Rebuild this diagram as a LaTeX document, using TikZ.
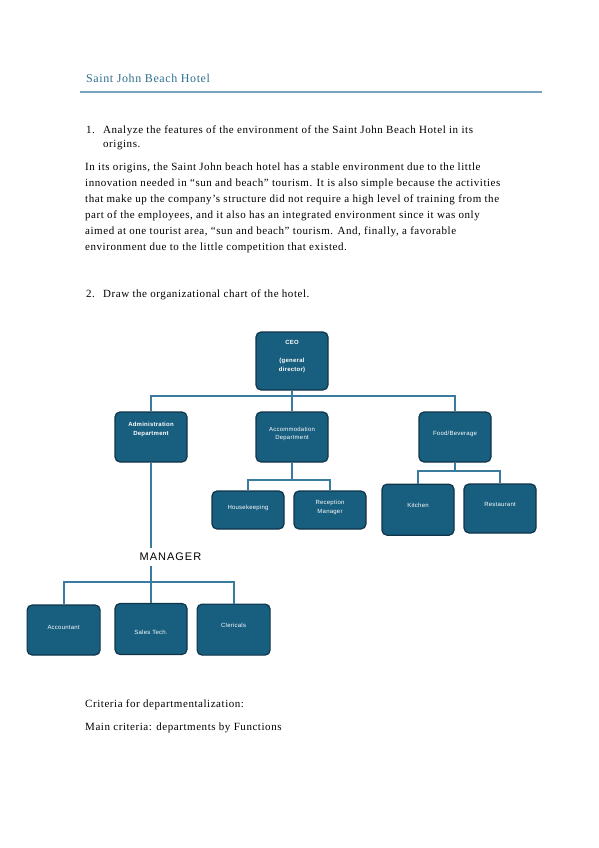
\documentclass[tikz,border=0pt]{standalone}
\usepackage{fontspec}
\setmainfont[LetterSpace=5]{Liberation Serif}
\setsansfont[LetterSpace=4]{Liberation Sans}
\definecolor{boxfill}{RGB}{23,94,127}
\definecolor{boxline}{RGB}{16,52,72}
\definecolor{linkcol}{RGB}{58,124,160}
\definecolor{headcol}{RGB}{47,111,145}
\definecolor{rulecol}{RGB}{118,163,189}
\begin{document}
\begin{tikzpicture}[x=1pt,y=-1pt,
    box/.style={draw=boxline,fill=boxfill,line width=1.2pt,rounded corners=5pt,minimum width=72pt,minimum height=50pt,inner sep=0pt},
    link/.style={draw=linkcol,line width=1.8pt},
    every label/.style={text=white,font=\sffamily\fontsize{6}{8.5}\selectfont,align=center,inner sep=0pt},
    body/.style={anchor=base west,inner sep=0pt,font=\fontsize{11}{13}\selectfont}]
  \useasboundingbox (0,0) rectangle (599,848);
  % page header
  \node[body,text=headcol,font=\fontsize{12}{14}\selectfont] (title) at (86,82.5) {Saint John Beach Hotel};
  \draw[rulecol,line width=2pt] (80,92.5) -- (541.5,92.5);
  % question 1
  \node[body] (num1) at (86,133.5) {1.};
  \node[body] (q1a) at (103,133.5) {Analyze the features of the environment of the Saint John Beach Hotel in its};
  \node[body] (q1b) at (103,147) {origins.};
  \node[body] (p1) at (85,170.5) {In its origins, the Saint John beach hotel has a stable environment due to the little};
  \node[body] (p2) at (85,186.5) {innovation needed in “sun and beach” tourism. It is also simple because the activities};
  \node[body] (p3) at (85,202.5) {that make up the company’s structure did not require a high level of training from the};
  \node[body] (p4) at (85,218.5) {part of the employees, and it also has an integrated environment since it was only};
  \node[body] (p5) at (85,234) {aimed at one tourist area, “sun and beach” tourism. And, finally, a favorable};
  \node[body] (p6) at (85,250) {environment due to the little competition that existed.};
  % question 2
  \node[body] (num2) at (86,297.5) {2.};
  \node[body] (q2) at (103,297.5) {Draw the organizational chart of the hotel.};
  % org chart
  \node[box,minimum height=58pt,label={[yshift=4pt,font=\sffamily\bfseries\fontsize{6}{9}\selectfont]center:{CEO\\[9pt](general\\director)}}] (ceo) at (292,361) {};
  \node[box,label={[yshift=8pt,font=\sffamily\bfseries\fontsize{6}{9}\selectfont]center:{Administration\\Department}}] (adm) at (151,437) {};
  \node[box,label={[yshift=3pt]center:{Accommodation\\Department}}] (acc) at (292,437) {};
  \node[box,label={[yshift=3pt]center:Food/Beverage}] (food) at (455,437) {};
  \node[box,minimum height=38pt,label={[yshift=2.5pt]center:Housekeeping}] (house) at (248,510) {};
  \node[box,minimum height=38pt,label={[yshift=2.5pt]center:{Reception\\Manager}}] (recep) at (330,510) {};
  \node[box,minimum height=51pt,label={[yshift=4pt]center:Kitchen}] (kitchen) at (418,509.7) {};
  \node[box,minimum height=49pt,label={[yshift=4pt]center:Restaurant}] (rest) at (500,508.5) {};
  \node[box,minimum width=73pt,label={[yshift=2.5pt]center:Accountant}] (acct) at (63.6,630) {};
  \node[box,minimum height=51pt,label={[yshift=-3.5pt]center:Sales Tech.}] (sales) at (151,629) {};
  \node[box,minimum width=73pt,minimum height=51pt,label={[yshift=4pt]center:Clericals}] (cler) at (233.6,629.6) {};
  \coordinate (topbar) at (292,396);
  \coordinate (accbar) at (292,480);
  \coordinate (foodbar) at (455,471);
  \coordinate (mgrbar) at (151,582);
  \draw[link] (ceo) -- (acc);
  \draw[link] (adm.north) |- (topbar) -| (food.north);
  \draw[link] (acc) -- (accbar);
  \draw[link] (house.north) |- (accbar) -| (recep.north);
  \draw[link] (food) -- (foodbar);
  \draw[link] (kitchen.north) |- (foodbar) -| (rest.north);
  \draw[link] (adm) -- (mgrbar);
  \draw[link] (acct.north) |- (mgrbar) -| (cler.north);
  \draw[link] (mgrbar) -- (sales);
  \node[fill=white,inner xsep=1pt,inner ysep=5pt,font=\sffamily\fontsize{11}{13}\selectfont\addfontfeature{LetterSpace=9}] (mgr) at (170.5,557) {MANAGER};
  % criteria
  \node[body] (crit) at (85,707.5) {Criteria for departmentalization:};
  \node[body] (main) at (85,730) {Main criteria: departments by Functions};
\end{tikzpicture}
\end{document}
